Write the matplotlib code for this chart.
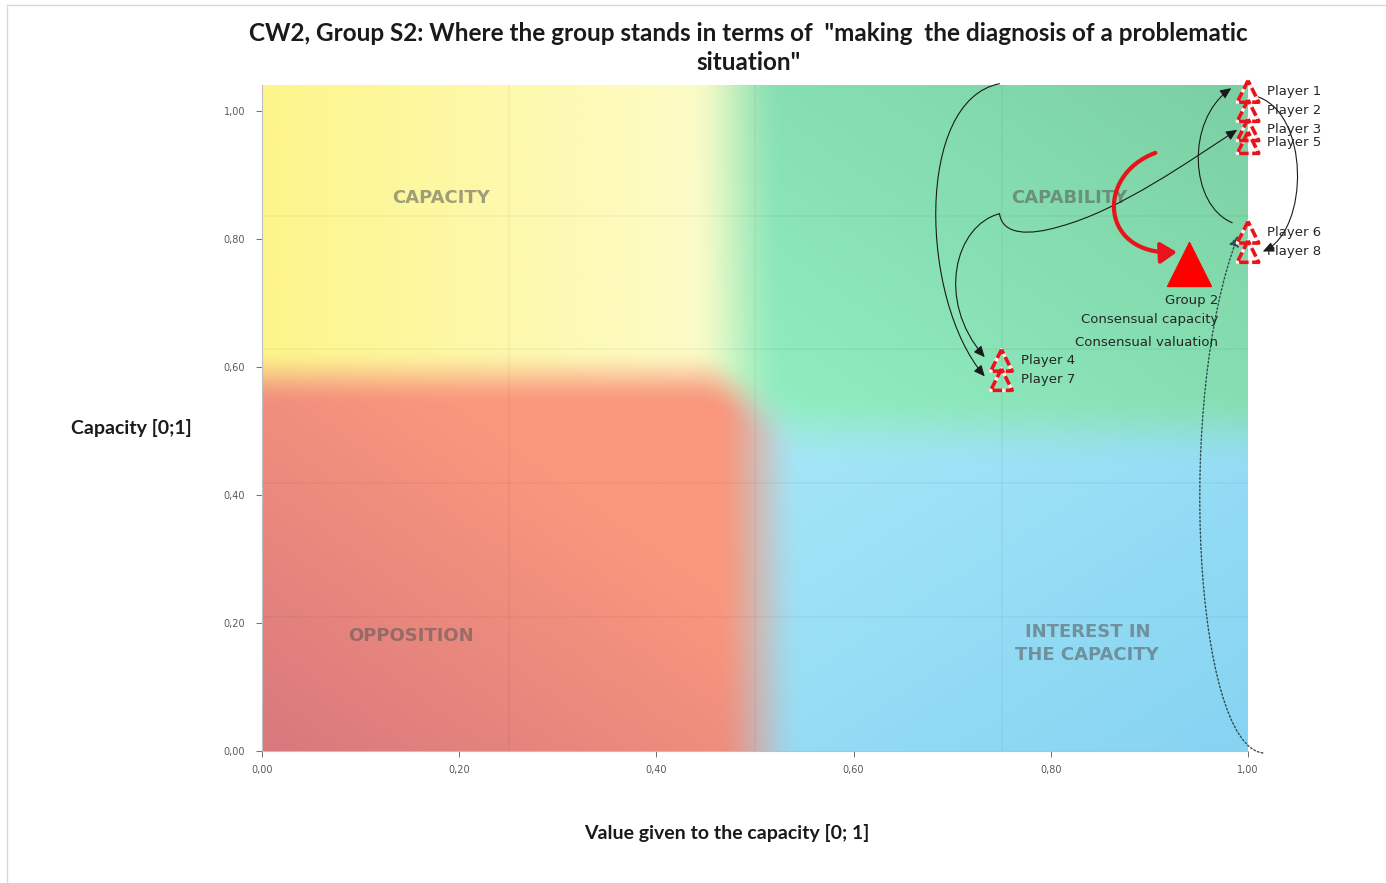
import numpy as np
import matplotlib
matplotlib.use("Agg")
import matplotlib.pyplot as plt
from matplotlib.path import Path
from matplotlib.patches import FancyArrowPatch
from matplotlib.lines import Line2D

# players: value given to the capacity (x) and capacity (y)
players = ["Player 1", "Player 2", "Player 3", "Player 5", "Player 6", "Player 8", "Player 4", "Player 7"]
value_given = [1.00, 1.00, 1.00, 1.00, 1.00, 1.00, 0.75, 0.75]
capacity = [1.03, 1.00, 0.97, 0.95, 0.81, 0.78, 0.61, 0.58]

group_value = 0.94
group_capacity = 0.76
group_lines = ["Group 2", "Consensual capacity", "Consensual valuation"]

ticks = [0.0, 0.2, 0.4, 0.6, 0.8, 1.0]

title = 'CW2, Group S2: Where the group stands in terms of  "making  the diagnosis of a problematic\nsituation"'

YTOP = 1.04


def hex2rgb(h):
    h = h.lstrip("#")
    return np.array([int(h[i:i + 2], 16) for i in (0, 2, 4)]) / 255.0


def smooth(t):
    t = np.clip(t, 0, 1)
    return t * t * (3 - 2 * t)


def lerp(a, b, t):
    return a * (1 - t[..., None]) + b * t[..., None]


def background(nx=500, ny=520):
    xs = np.linspace(0, 1, nx)
    ys = np.linspace(YTOP, 0, ny)
    X, Y = np.meshgrid(xs, ys)
    # quadrant colour fields
    yel = lerp(hex2rgb("#fdf58a"), hex2rgb("#fdfcc8"), np.clip(X / 0.45, 0, 1))
    red = lerp(hex2rgb("#d9787d"), hex2rgb("#f9977d"), np.clip((X / 0.45 + Y / 0.5) / 1.5, 0, 1))
    grn = lerp(hex2rgb("#92efc2"), hex2rgb("#7bd0a3"),
               np.clip(((X - 0.5) / 0.5 + (Y - 0.5) / 0.54) / 2, 0, 1))
    blu = lerp(hex2rgb("#a6e7f8"), hex2rgb("#86d3f2"),
               np.clip(((X - 0.5) / 0.5 + (0.5 - Y) / 0.5) / 2, 0, 1))
    sx_top = smooth((X - 0.43) / 0.10)
    sx_bot = smooth((X - 0.46) / 0.09)
    top = lerp(yel, grn, sx_top)
    bot = lerp(red, blu, sx_bot)
    sx = smooth((X - 0.44) / 0.12)
    cy = 0.585 * (1 - sx) + 0.50 * sx
    wy = 0.045 * (1 - sx) + 0.06 * sx
    sy = smooth((Y - (cy - wy)) / (2 * wy))
    return lerp(bot, top, sy)


def bezier(pts, codes=None):
    if codes is None:
        codes = [Path.MOVETO] + [Path.CURVE4] * (len(pts) - 1)
    return Path(pts, codes)


fig = plt.figure(figsize=(13.86, 8.83), dpi=100)
ax = fig.add_axes([262 / 1386, 1 - 751 / 883, 986 / 1386, 666 / 883])

ax.imshow(background(), extent=(0, 1, 0, YTOP), aspect="auto", interpolation="bilinear", zorder=0)
ax.set_xlim(0, 1)
ax.set_ylim(0, YTOP)

# faint seams in the background picture
for xv in [0.25, 0.5, 0.75]:
    ax.axvline(xv, color="#000000", alpha=0.04, lw=1.2, zorder=1)
for yv in [0.209, 0.418, 0.627, 0.836]:
    ax.axhline(yv, color="#000000", alpha=0.035, lw=1.2, zorder=1)

for s in ["top", "right"]:
    ax.spines[s].set_visible(False)
for s in ["left", "bottom"]:
    ax.spines[s].set_color("#bfbfbf")
    ax.spines[s].set_linewidth(0.8)

ax.set_xticks(ticks)
ax.set_yticks(ticks)
lab = [f"{t:.2f}".replace(".", ",") for t in ticks]
ax.set_xticklabels(lab)
ax.set_yticklabels(lab)
ax.tick_params(axis="both", labelsize=7, colors="#595959", length=4, width=0.6, direction="out")
ax.tick_params(axis="x", pad=6)
ax.tick_params(axis="y", pad=8)

# quadrant names
qkw = dict(fontsize=13, fontweight="bold", color="#555555", alpha=0.55, ha="center", va="center", zorder=2)
ax.text(0.1815, 0.864, "CAPACITY", **qkw)
ax.text(0.819, 0.864, "CAPABILITY", **qkw)
ax.text(0.151, 0.180, "OPPOSITION", **qkw)
ax.text(0.837, 0.168, "INTEREST IN\nTHE CAPACITY", linespacing=1.3, **qkw)

pos = dict(zip(players, zip(value_given, capacity)))


def tip(name, dx=-0.017, dy=0.005):
    x, y = pos[name]
    return (x + dx, y + dy)


# connectors between the individual positions
arrow_kw = dict(arrowstyle="-|>,head_length=0.55,head_width=0.25", mutation_scale=12,
                color="#1a1a1a", lw=0.8, shrinkA=0, shrinkB=0, zorder=3, clip_on=False)
links = [
    [(0.748, 1.042), (0.662, 1.016), (0.667, 0.704), tip("Player 7")],
    [(0.748, 0.839), (0.703, 0.821), (0.683, 0.704), tip("Player 4")],
    [(0.984, 0.825), (0.941, 0.852), (0.936, 0.984), tip("Player 1")],
    [(1.007, 1.023), (1.063, 1.000), (1.063, 0.813), tip("Player 8", 0.015, 0.0)],
]
for pts in links:
    ax.add_patch(FancyArrowPatch(path=bezier(pts), **arrow_kw))

hook = [(0.748, 0.839), (0.751, 0.805), (0.779, 0.805), (0.809, 0.819),
        (0.870, 0.844), (0.941, 0.922), tip("Player 3", -0.011, 0.0)]
ax.add_patch(FancyArrowPatch(path=bezier(hook), **arrow_kw))

dotted = [(1.015, -0.003), (0.946, 0.009), (0.926, 0.548), tip("Player 6", -0.010, -0.005)]
ax.add_patch(FancyArrowPatch(path=bezier(dotted), linestyle=(0, (1.2, 1.6)),
                             **{**arrow_kw, "color": "#2f4f4f", "lw": 1.0}))

# red arrow towards the group position
red_pts = [(0.906, 0.934), (0.845, 0.899), (0.850, 0.774),
           (group_value - 0.012, group_capacity + 0.019)]
ax.add_patch(FancyArrowPatch(path=bezier(red_pts), arrowstyle="-|>,head_length=0.7,head_width=0.45",
                             mutation_scale=14, color="#e8141b", lw=3.0, zorder=4))

# player markers: dashed red triangles
ax.scatter(value_given, capacity, s=240, marker="^", facecolors="none", edgecolors="#fff0f0",
           linewidths=2.4, zorder=5, clip_on=False)
ax.scatter(value_given, capacity, s=240, marker="^", facecolors="none", edgecolors="#e8141b",
           linewidths=2.6, linestyles=(0, (2.6, 1.0)), zorder=6, clip_on=False)
for name, x, y in zip(players, value_given, capacity):
    ax.annotate(name, (x, y), xytext=(14, 0), textcoords="offset points", fontsize=9.5,
                color="#262626", ha="left", va="center", zorder=7, annotation_clip=False)

ax.scatter([group_value], [group_capacity], s=1000, marker="^", color="#ff0000", zorder=6)
for k, (line, off) in enumerate(zip(group_lines, [-26, -40, -56])):
    ax.annotate(line, (group_value, group_capacity), xytext=(21, off), textcoords="offset points",
                fontsize=9.5, color="#262626", ha="right", va="center", zorder=7)

fig.text(748 / 1386, 1 - 48 / 883, title, ha="center", va="center", fontsize=17.5,
         fontweight="bold", family="Lato", linespacing=1.3, color="#1a1a1a")
fig.text(131 / 1386, 1 - 428 / 883, "Capacity [0;1]", ha="center", va="center", fontsize=14,
         fontweight="bold", family="Lato", color="#1a1a1a")
fig.text(727 / 1386, 1 - 833 / 883, "Value given to the capacity [0; 1]", ha="center", va="center",
         fontsize=14, fontweight="bold", family="Lato", color="#1a1a1a")

# chart border
fig.add_artist(Line2D([7 / 1386, 7 / 1386], [0, 1 - 5 / 883], transform=fig.transFigure,
                      color="#d9d9d9", lw=1))
fig.add_artist(Line2D([7 / 1386, 1], [1 - 5 / 883, 1 - 5 / 883], transform=fig.transFigure,
                      color="#d9d9d9", lw=1))

fig.savefig("out.png", dpi=100)
